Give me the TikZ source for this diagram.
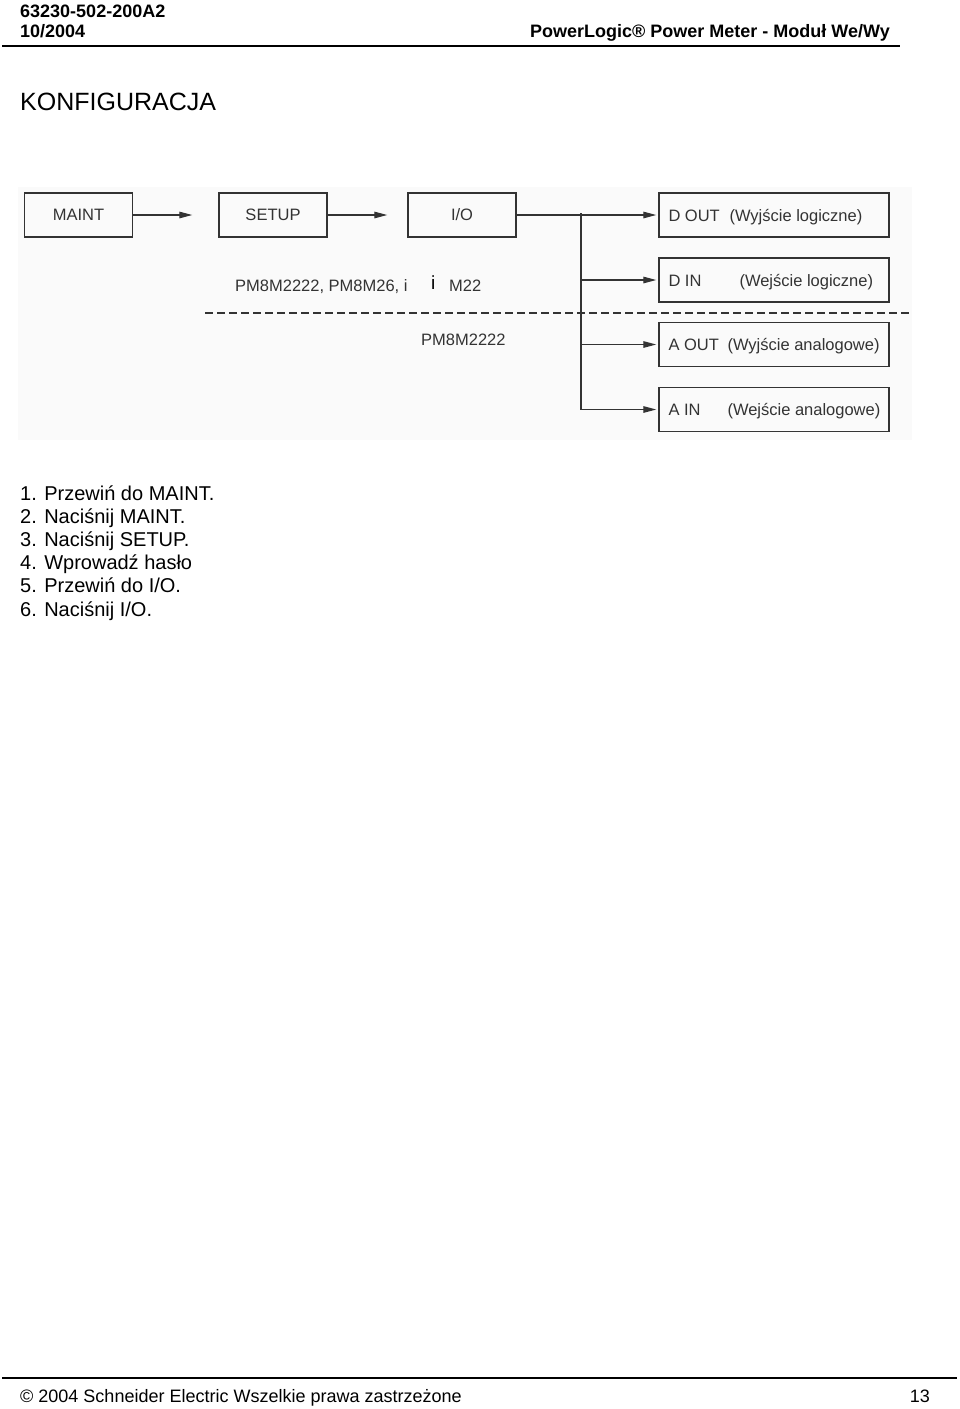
\documentclass[tikz,border=0pt]{standalone}
\usepackage{fontspec}
\setmainfont{Liberation Sans}
\usepackage{tikz}
\usetikzlibrary{arrows.meta}
\definecolor{tusz}{HTML}{333333}
\definecolor{skan}{HTML}{FAFAFA}
\newcommand{\rozm}[1]{\fontsize{#1}{#1}\selectfont}
\tikzset{
  blok/.style={draw=tusz, line width=1.4pt, minimum width=108pt, minimum height=44pt, inner sep=0pt, text=tusz, font=\rozm{16.5}},
  wyj/.style={blok, minimum width=230pt},
  opis/.style={anchor=base west, inner sep=0pt, text=tusz, font=\rozm{16.5}},
  strz/.style={-{Triangle[length=13pt,width=6.5pt]}, line width=1.3pt, draw=tusz},
  linia/.style={line width=1.3pt, draw=tusz},
  krok/.style={anchor=base west, inner sep=0pt, font=\rozm{20}},
}
\begin{document}
\begin{tikzpicture}[x=1pt,y=-1pt]
        \useasboundingbox (0,0) rectangle (960,1409);
        % Naglowek
        \node[anchor=base west, inner sep=0pt, font=\rozm{18}\bfseries] (nr) at (20,17) {63230-502-200A2};
        \node[anchor=base west, inner sep=0pt, font=\rozm{18}\bfseries] (data) at (20,37) {10/2004};
        \node[anchor=base east, inner sep=0pt, font=\rozm{18}\bfseries] (tytul) at (890,37) {PowerLogic® Power Meter - Moduł We/Wy};
        \draw[line width=2pt] (2,45.5) -- (900,45.5);
        \node[anchor=base west, inner sep=0pt, font=\rozm{25}] (konf) at (20,110) {KONFIGURACJA};
        % Tlo schematu
        \fill[skan] (18,187) rectangle (912,440);
        % Bloki menu
        \node[blok] (maint) at (78.5,215) {MAINT};
        \node[blok] (setup) at (273,215) {SETUP};
        \node[blok] (io) at (462,215) {I/O};
        \node[wyj] (dout) at (774,215) {};
        \node[wyj] (din) at (774,280) {};
        \node[wyj] (aout) at (774,344.5) {};
        \node[wyj] (ain) at (774,409.5) {};
        \node[opis] (doutA) at ([xshift=10pt,yshift=-6pt]dout.west) {D OUT};
        \node[opis] (doutB) at ([xshift=71pt,yshift=-6pt]dout.west) {(Wyjście logiczne)};
        \node[opis] (dinA) at ([xshift=10pt,yshift=-6pt]din.west) {D IN};
        \node[opis] (dinB) at ([xshift=81pt,yshift=-6pt]din.west) {(Wejście logiczne)};
        \node[opis] (aoutA) at ([xshift=10pt,yshift=-6pt]aout.west) {A OUT};
        \node[opis] (aoutB) at ([xshift=69pt,yshift=-6pt]aout.west) {(Wyjście analogowe)};
        \node[opis] (ainA) at ([xshift=10pt,yshift=-6pt]ain.west) {A IN};
        \node[opis] (ainB) at ([xshift=69pt,yshift=-6pt]ain.west) {(Wejście analogowe)};
        % Strzalki
        \draw[strz] (maint.east) -- ([xshift=-26pt]setup.west);
        \draw[strz] (setup.east) -- ([xshift=-20pt]io.west);
        \coordinate (wezel) at (581,215);
        \draw[linia] (io.east) -- (wezel);
        \draw[linia] ([yshift=2pt]wezel) -- (wezel |- ain.west);
        \foreach \cel in {dout,din,aout,ain}
            \draw[strz] (wezel |- \cel.west) -- ([xshift=-2pt]\cel.west);
        % Podzial modeli
        \node[opis] (modele) at (235,291) {PM8M2222, PM8M26, i};
        \node[anchor=base west, inner sep=0pt, font=\rozm{19}] (modeleI) at (431,289) {i};
        \node[opis] (modeleM) at (449,291) {M22};
        \draw[tusz, line width=1.3pt, dash pattern=on 7.5pt off 4.5pt] (205,313) -- (909,313);
        \node[opis] (model) at (421,345) {PM8M2222};
        % Kroki
        \foreach \tekst [count=\n] in {Przewiń do MAINT., Naciśnij MAINT., Naciśnij SETUP., Wprowadź hasło, Przewiń do I/O., Naciśnij I/O.}
            \node[krok] (krok\n) at (20,{500+23.2*(\n-1)}) {\n. \tekst};
        % Stopka
        \draw[line width=2pt] (2,1378) -- (957,1378);
        \node[anchor=base west, inner sep=0pt, font=\rozm{18}] (prawa) at (20,1402) {© 2004 Schneider Electric Wszelkie prawa zastrzeżone};
        \node[anchor=base east, inner sep=0pt, font=\rozm{18}] (strona) at (930,1402) {13};
    \end{tikzpicture}
\end{document}
